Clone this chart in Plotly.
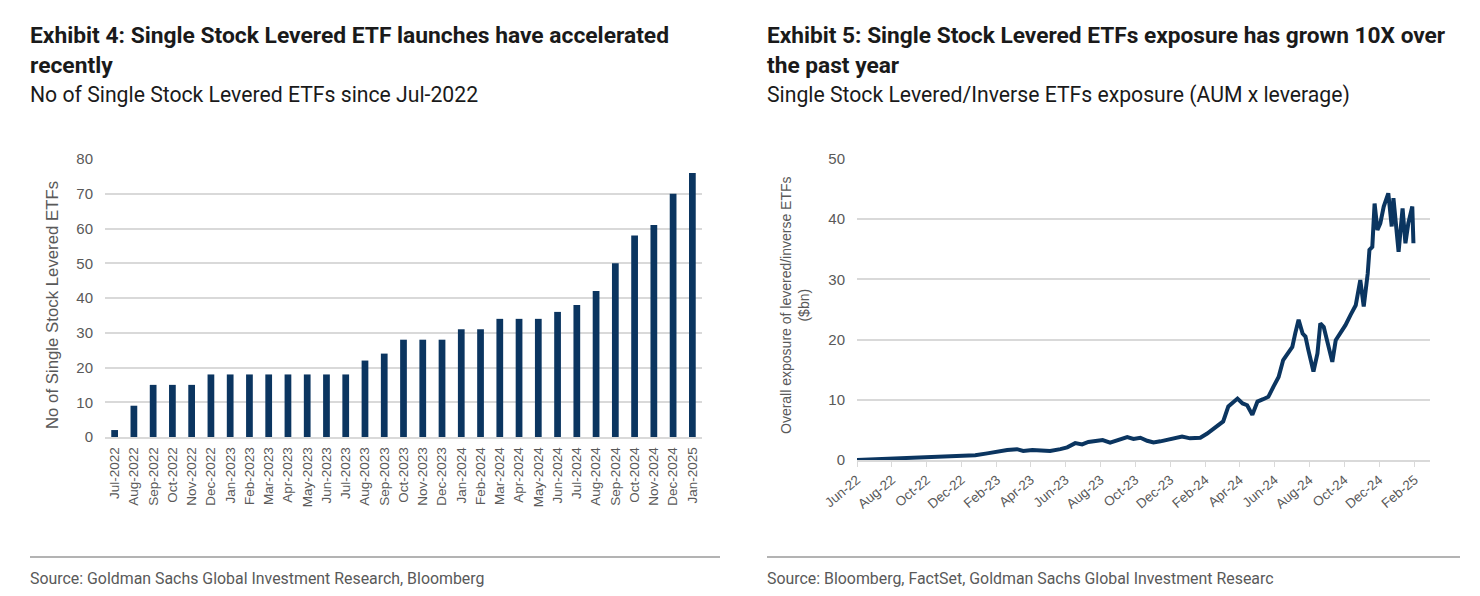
import plotly.graph_objects as go

W, H = 1480, 596

# ---------------- Data ----------------
months = ["Jul-2022", "Aug-2022", "Sep-2022", "Oct-2022", "Nov-2022", "Dec-2022",
          "Jan-2023", "Feb-2023", "Mar-2023", "Apr-2023", "May-2023", "Jun-2023",
          "Jul-2023", "Aug-2023", "Sep-2023", "Oct-2023", "Nov-2023", "Dec-2023",
          "Jan-2024", "Feb-2024", "Mar-2024", "Apr-2024", "May-2024", "Jun-2024",
          "Jul-2024", "Aug-2024", "Sep-2024", "Oct-2024", "Nov-2024", "Dec-2024",
          "Jan-2025"]
etf_counts = [2, 9, 15, 15, 15, 18, 18, 18, 18, 18, 18, 18, 18, 22, 24, 28, 28, 28,
              31, 31, 34, 34, 34, 36, 38, 42, 50, 58, 61, 70, 76]

exposure_dates = [
    "2022-06-01", "2022-07-01", "2022-08-03", "2022-09-01", "2022-10-02", "2022-11-01",
    "2022-12-02", "2022-12-25", "2023-01-15", "2023-02-01", "2023-02-19", "2023-03-08",
    "2023-03-19", "2023-04-04", "2023-05-05", "2023-05-23", "2023-06-04", "2023-06-18",
    "2023-06-30", "2023-07-11", "2023-07-27", "2023-08-05", "2023-08-18", "2023-09-05",
    "2023-09-17", "2023-09-28", "2023-10-10", "2023-10-22", "2023-11-02", "2023-11-14",
    "2023-12-01", "2023-12-22", "2024-01-05", "2024-01-23", "2024-02-04", "2024-02-18",
    "2024-03-03", "2024-03-12", "2024-03-19", "2024-03-28", "2024-04-06", "2024-04-14",
    "2024-04-23", "2024-05-02", "2024-05-12", "2024-05-21", "2024-05-30", "2024-06-08",
    "2024-06-16", "2024-06-25", "2024-07-02", "2024-07-07", "2024-07-13", "2024-07-20",
    "2024-07-25", "2024-07-30", "2024-08-08", "2024-08-15", "2024-08-20", "2024-08-26",
    "2024-09-02", "2024-09-10", "2024-09-16", "2024-09-24", "2024-10-03", "2024-10-12",
    "2024-10-21", "2024-10-29", "2024-11-04", "2024-11-11", "2024-11-14", "2024-11-19",
    "2024-11-23", "2024-11-28", "2024-12-03", "2024-12-09", "2024-12-17", "2024-12-23",
    "2024-12-26", "2025-01-04", "2025-01-11", "2025-01-16", "2025-01-21", "2025-01-28",
    "2025-01-30"]
exposure_bn = [
    0.0, 0.1, 0.2, 0.3, 0.4, 0.5,
    0.65, 0.8, 1.1, 1.4, 1.65, 1.8,
    1.5, 1.65, 1.5, 1.8, 2.1, 2.8,
    2.6, 3.0, 3.3, 3.3, 2.9, 3.4,
    3.8, 3.5, 3.7, 3.2, 2.9, 3.1,
    3.4, 3.9, 3.6, 3.7, 4.4, 5.4,
    6.4, 8.9, 9.4, 10.2, 9.4, 9.1,
    7.5, 9.7, 10.1, 10.5, 12.2, 13.8,
    16.6, 17.7, 18.8, 21.0, 23.3, 21.0,
    20.5, 18.3, 14.7, 17.7, 22.7, 22.1,
    19.4, 16.3, 19.9, 21.0, 22.4, 24.1,
    25.7, 29.9, 25.5, 31.0, 34.9, 35.4,
    42.6, 38.2, 39.3, 42.1, 44.3, 38.8,
    43.5, 34.6, 41.8, 36.0, 39.3, 42.1,
    36.0]

# ---------------- Styling ----------------
NAVY = "#0b3560"
GRID = "#d9d9d9"
TICK = "#595959"
TITLE_FONT = "Roboto, Arial, sans-serif"
BODY_FONT = "Liberation Sans, Arial, sans-serif"

# the page body adds an 8px offset; compensate so pixel targets land in place
OFF = 8


def px_x(x):
    return (x - OFF) / W


def px_y(y):
    return 1 - (y - OFF) / H


fig = go.Figure()

fig.add_trace(go.Bar(x=months, y=etf_counts, marker=dict(color=NAVY, line=dict(width=0)),
                     xaxis="x", yaxis="y", showlegend=False))
fig.add_trace(go.Scatter(x=exposure_dates, y=exposure_bn, mode="lines",
                         line=dict(color=NAVY, width=4), xaxis="x2", yaxis="y2",
                         showlegend=False))

fig.update_layout(
    width=W, height=H,
    margin=dict(l=0, r=0, t=0, b=0, autoexpand=False),
    paper_bgcolor="white", plot_bgcolor="white",
    bargap=0.65,
    font=dict(family=BODY_FONT, color=TICK, size=13),
    xaxis=dict(domain=[px_x(105), px_x(702)], anchor="y", type="category",
               automargin=False,
               tickangle=-90, tickfont=dict(size=13.5, color=TICK),
               showgrid=False, showline=True, linecolor=GRID, linewidth=1.5,
               ticks="", ticklabelstandoff=3),
    yaxis=dict(domain=[px_y(437), px_y(159)], anchor="x", range=[0, 80], dtick=10,
               automargin=False,
               showgrid=True, gridcolor=GRID, gridwidth=1.5, zeroline=False,
               tickfont=dict(size=15, color=TICK), ticklabelstandoff=11),
    xaxis2=dict(domain=[px_x(857), px_x(1430)], anchor="y2", type="date",
                automargin=False,
                range=["2022-06-01", "2025-02-28"], tick0="2022-06-01", dtick="M2",
                tickformat="%b-%y", tickangle=-40, tickfont=dict(size=13.5, color=TICK),
                showgrid=False, showline=True, linecolor=GRID, linewidth=1.5,
                ticks="outside", ticklen=5, tickcolor=GRID),
    yaxis2=dict(domain=[px_y(460), px_y(159)], anchor="x2", range=[0, 50], dtick=10,
                automargin=False,
                showgrid=True, gridcolor=GRID, gridwidth=1.5, zeroline=False,
                tickfont=dict(size=15, color=TICK), ticklabelstandoff=11),
)

TITLE_C = "#1a1a1a"
annos = [
    dict(x=px_x(28), y=px_y(35), text="<b>Exhibit 4: Single Stock Levered ETF launches have accelerated</b>",
         font=dict(family=TITLE_FONT, size=22.8, color=TITLE_C)),
    dict(x=px_x(28), y=px_y(65), text="<b>recently</b>",
         font=dict(family=TITLE_FONT, size=22.8, color=TITLE_C)),
    dict(x=px_x(28), y=px_y(95), text="No of Single Stock Levered ETFs since Jul-2022",
         font=dict(family=TITLE_FONT, size=21.2, color=TITLE_C)),
    dict(x=px_x(765), y=px_y(35), text="<b>Exhibit 5: Single Stock Levered ETFs exposure has grown 10X over</b>",
         font=dict(family=TITLE_FONT, size=22.7, color=TITLE_C)),
    dict(x=px_x(765), y=px_y(65), text="<b>the past year</b>",
         font=dict(family=TITLE_FONT, size=22.7, color=TITLE_C)),
    dict(x=px_x(765), y=px_y(95), text="Single Stock Levered/Inverse ETFs exposure (AUM x leverage)",
         font=dict(family=TITLE_FONT, size=21.2, color=TITLE_C)),
    dict(x=px_x(28), y=px_y(578), text="Source: Goldman Sachs Global Investment Research, Bloomberg",
         font=dict(family=TITLE_FONT, size=15.9, color=TICK)),
    dict(x=px_x(765), y=px_y(578), text="Source: Bloomberg, FactSet, Goldman Sachs Global Investment Researc",
         font=dict(family=TITLE_FONT, size=15.9, color=TICK)),
]
for a in annos:
    a.update(xref="paper", yref="paper", xanchor="left", yanchor="middle", showarrow=False)
    fig.add_annotation(**a)

# rotated y-axis titles
fig.add_annotation(x=px_x(52), y=px_y(305), xref="paper", yref="paper", showarrow=False,
                   textangle=-90, xanchor="center", yanchor="middle",
                   text="No of Single Stock Levered ETFs",
                   font=dict(family=BODY_FONT, size=16.8, color=TICK))
fig.add_annotation(x=px_x(795), y=px_y(305), xref="paper", yref="paper", showarrow=False,
                   textangle=-90, xanchor="center", yanchor="middle",
                   text="Overall exposure of levered/inverse ETFs<br>($bn)",
                   font=dict(family=BODY_FONT, size=14, color=TICK))

for x0, x1 in [(30, 720), (767, 1460)]:
    fig.add_shape(type="line", xref="paper", yref="paper",
                  x0=px_x(x0), x1=px_x(x1), y0=px_y(557), y1=px_y(557),
                  line=dict(color="#9a9a9a", width=1.5))

fig.write_html("out.html")
